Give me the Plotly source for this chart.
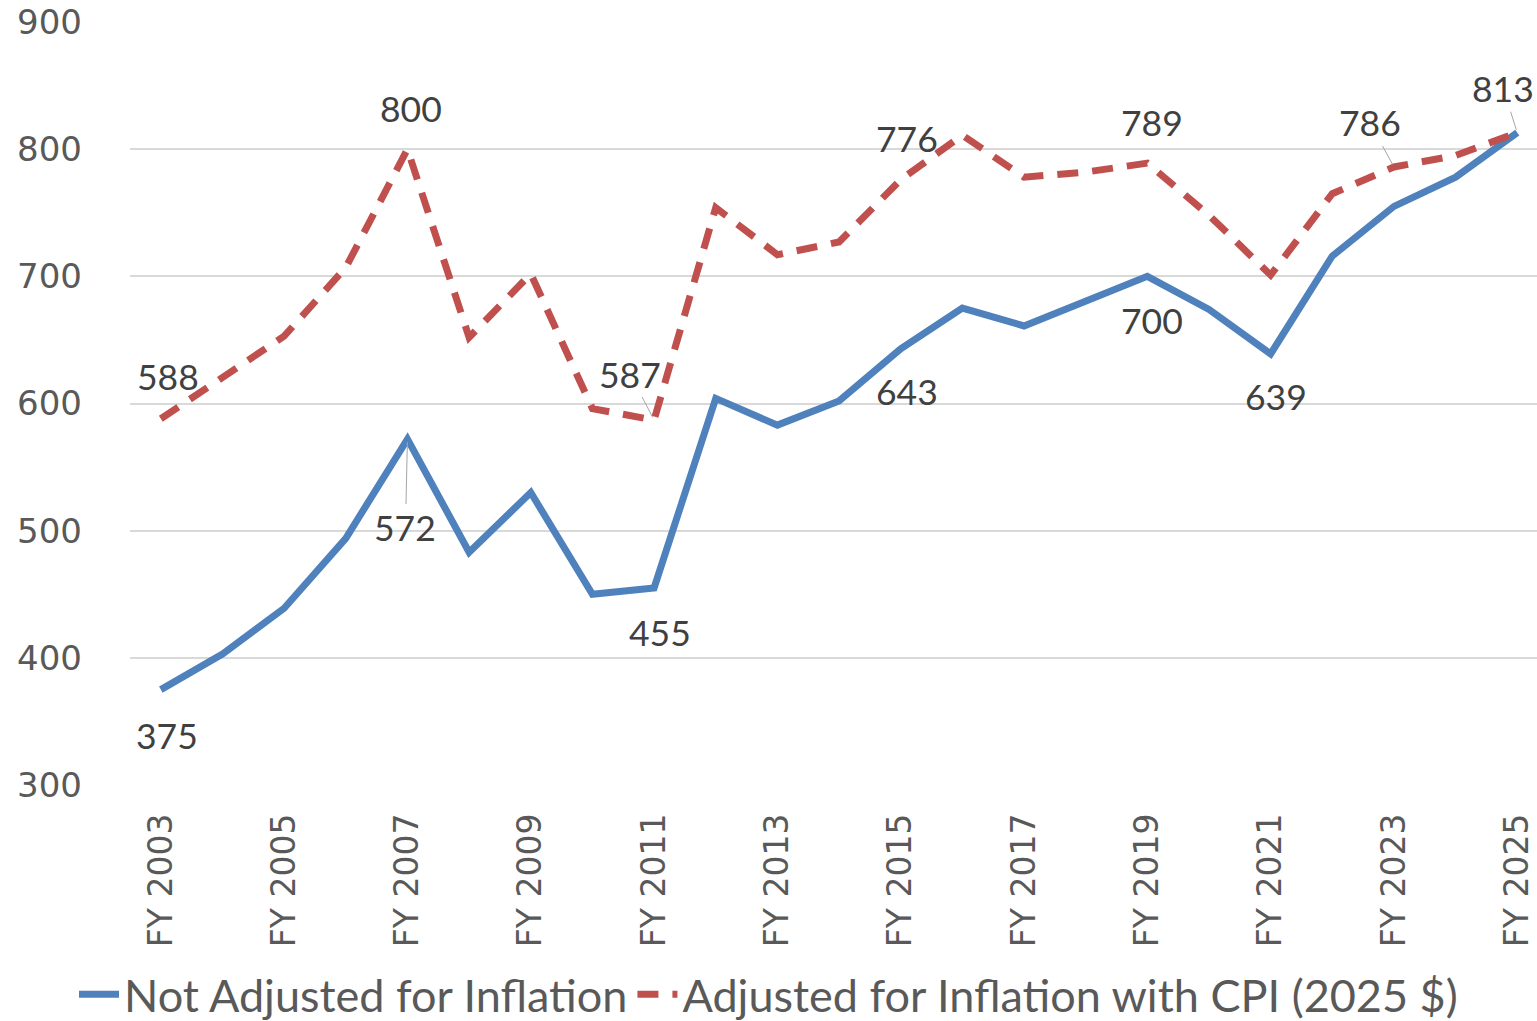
import plotly.graph_objects as go

years = [f"FY {y}" for y in range(2003, 2026)]
tick_years = [f"FY {y}" for y in range(2003, 2026, 2)]

not_adjusted = [375, 403, 439, 494, 572, 483, 530, 450, 455, 604, 583, 602,
                643, 675, 661, 680, 700, 674, 639, 716, 755, 778, 813]
adjusted_cpi = [588, 621, 653, 707, 800, 652, 702, 596, 587, 754, 717, 727,
                776, 811, 778, 782, 789, 748, 701, 765, 786, 795, 813]

series_names = ["Not Adjusted for Inflation", "Adjusted for Inflation with CPI (2025 $)"]

# years whose values carry a data label
blue_labeled = ["FY 2003", "FY 2007", "FY 2011", "FY 2015", "FY 2019", "FY 2021"]
red_labeled = ["FY 2003", "FY 2007", "FY 2011", "FY 2015", "FY 2019", "FY 2023", "FY 2025"]

BLUE = "#4F81BD"
RED = "#C0504D"
LABEL_FONT = dict(family="Lato, 'Open Sans', sans-serif", size=35.5, color="#404040")

fig = go.Figure()
fig.add_trace(go.Scatter(x=years, y=not_adjusted, mode="lines", name=series_names[0],
                         line=dict(color=BLUE, width=7), hoverinfo="skip"))
fig.add_trace(go.Scatter(x=years, y=adjusted_cpi, mode="lines", name=series_names[1],
                         line=dict(color=RED, width=7, dash="21px,14px"), hoverinfo="skip"))

# label placement (pixels): (dx, dy_down, leader)
blue_place = {
    "FY 2003": (6, 46, False),
    "FY 2007": (-2, 88, True),
    "FY 2011": (6, 45, False),
    "FY 2015": (6, 43, False),
    "FY 2019": (5, 44, False),
    "FY 2021": (5, 43, False),
}
red_place = {
    "FY 2003": (7, -42, False),
    "FY 2007": (4, -41, False),
    "FY 2011": (-24, -46, True),
    "FY 2015": (6, -41, False),
    "FY 2019": (5, -41, False),
    "FY 2023": (-24, -44, True),
    "FY 2025": (-14, -44, True),
}

def add_labels(labeled, values, place):
    for yr in labeled:
        v = values[years.index(yr)]
        dx, dy, leader = place[yr]
        if leader:
            fig.add_annotation(x=yr, y=v, text=str(v), showarrow=True, arrowhead=0,
                               arrowwidth=1, arrowcolor="#A6A6A6", standoff=3,
                               ax=dx, ay=dy, font=LABEL_FONT)
        else:
            fig.add_annotation(x=yr, y=v, text=str(v), showarrow=False,
                               xshift=dx, yshift=-dy, font=LABEL_FONT)

add_labels(blue_labeled, not_adjusted, blue_place)
add_labels(red_labeled, adjusted_cpi, red_place)

fig.update_layout(
    width=1537, height=1021,
    margin=dict(l=130, r=0, t=22, b=236),
    plot_bgcolor="white", paper_bgcolor="white",
    showlegend=True,
    legend=dict(orientation="h", xref="container", yref="container",
                x=0.5, xanchor="center", y=0.026, yanchor="middle",
                font=dict(family="Lato, 'Open Sans', sans-serif", size=45, color="#595959"),
                itemwidth=40, bgcolor="rgba(0,0,0,0)"),
)
fig.update_xaxes(
    type="category", categoryorder="array", categoryarray=years,
    range=[-0.5, 22.32], tickmode="array", tickvals=tick_years, ticktext=tick_years,
    tickangle=-90, ticklabelstandoff=21, showgrid=False, showline=False, zeroline=False,
    tickfont=dict(family="DejaVu Sans", size=33, color="#595959"),
)
fig.update_yaxes(
    range=[300, 900], tickvals=[300, 400, 500, 600, 700, 800, 900],
    showgrid=True, gridcolor="#D9D9D9", gridwidth=1.5, zeroline=False, showline=False,
    ticklabelstandoff=47,
    tickfont=dict(family="DejaVu Sans", size=34, color="#595959"),
)

fig.write_html("out.html")
